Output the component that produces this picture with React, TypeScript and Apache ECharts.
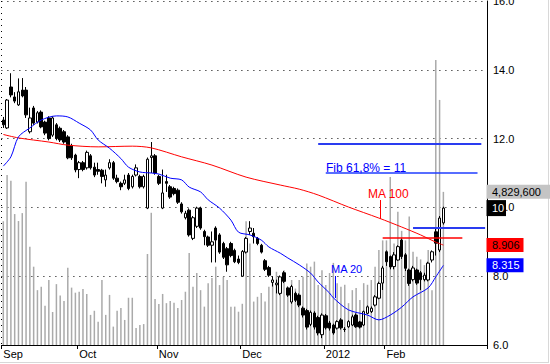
import React, { useEffect, useRef } from 'react';
import * as echarts from 'echarts';

const monthLabels = ['Sep', 'Oct', 'Nov', 'Dec', '2012', 'Feb'];
const monthStarts = [0, 20, 41, 63, 85, 101];
const yearStart = 85;
const slotCount = 128;

// [open, close, low, high]
const candles = [
  [12.54, 12.40, 12.31, 12.63], [12.31, 13.12, 12.28, 13.15], [13.50, 13.27, 13.20, 13.90], [13.21, 13.09, 13.03, 13.35],
  [12.98, 13.36, 12.95, 13.75], [13.41, 13.24, 13.20, 13.76], [13.41, 12.69, 12.60, 13.50], [12.20, 12.60, 12.15, 12.90],
  [12.89, 12.45, 12.40, 12.95], [12.48, 12.75, 12.44, 12.80], [12.77, 12.34, 12.30, 12.82], [12.48, 12.16, 12.10, 12.52],
  [12.60, 12.00, 11.95, 12.65], [12.10, 12.60, 12.05, 12.65], [12.40, 12.00, 11.95, 12.45], [12.30, 11.96, 11.90, 12.35],
  [12.20, 11.90, 11.85, 12.25], [12.05, 11.44, 11.40, 12.10], [11.80, 11.44, 11.38, 11.85], [11.52, 11.09, 11.02, 11.56],
  [11.10, 11.30, 10.85, 11.35], [11.30, 11.10, 11.05, 11.35], [11.15, 11.60, 11.10, 11.65], [11.50, 11.15, 11.10, 11.55],
  [11.17, 10.94, 10.88, 11.30], [11.10, 11.05, 10.95, 11.30], [11.08, 10.90, 10.70, 11.12], [10.80, 10.94, 10.60, 11.10],
  [11.15, 11.30, 11.10, 11.40], [11.30, 10.85, 10.80, 11.35], [10.85, 10.75, 10.70, 10.95], [10.70, 10.60, 10.50, 10.75],
  [10.70, 10.80, 10.65, 10.95], [10.94, 10.55, 10.50, 11.00], [10.60, 10.90, 10.55, 10.95], [10.94, 11.15, 10.90, 11.25],
  [10.90, 10.60, 10.55, 10.95], [10.60, 10.90, 10.55, 10.95], [9.98, 11.40, 9.95, 11.45], [11.45, 11.50, 11.00, 11.90],
  [11.50, 11.00, 10.95, 11.55], [10.90, 10.70, 10.65, 10.95], [9.98, 10.42, 9.95, 11.10], [10.75, 10.70, 10.45, 10.95],
  [10.60, 10.30, 10.25, 10.65], [10.55, 10.40, 10.35, 10.60], [10.50, 10.15, 10.10, 10.55], [10.10, 9.87, 9.82, 10.15],
  [9.70, 9.83, 9.65, 9.90], [9.92, 9.20, 9.15, 9.97], [9.10, 9.70, 9.05, 9.75], [9.45, 9.98, 9.40, 10.02],
  [9.98, 9.40, 9.35, 10.02], [9.30, 9.15, 8.90, 9.35], [9.14, 8.90, 8.85, 9.18], [8.90, 9.00, 8.40, 9.30],
  [9.40, 9.05, 8.40, 9.45], [9.20, 8.70, 8.65, 9.25], [8.95, 8.55, 8.50, 9.00], [8.80, 8.33, 8.13, 8.85],
  [8.95, 8.60, 8.55, 9.00], [8.75, 8.42, 8.38, 8.80], [8.50, 8.40, 8.35, 8.60], [8.00, 8.72, 7.98, 8.76],
  [8.70, 9.10, 8.66, 9.14], [9.30, 9.40, 9.20, 9.60], [9.25, 9.15, 8.95, 9.40], [9.10, 8.95, 8.90, 9.14],
  [8.90, 8.70, 8.66, 8.94], [8.45, 8.20, 8.15, 8.50], [8.25, 8.03, 7.98, 8.30], [7.82, 7.89, 7.70, 8.00],
  [7.75, 7.80, 7.50, 7.90], [7.50, 7.98, 7.45, 8.02], [8.10, 7.85, 7.80, 8.15], [7.66, 7.45, 7.40, 7.70],
  [7.25, 7.70, 7.20, 7.75], [7.50, 7.30, 7.25, 7.55], [7.45, 7.16, 7.10, 7.50], [7.07, 6.87, 6.80, 7.12],
  [7.00, 6.52, 6.45, 7.05], [6.60, 6.95, 6.55, 7.00], [6.93, 6.52, 6.45, 6.98], [6.80, 6.35, 6.28, 6.85],
  [6.30, 6.87, 6.20, 6.92], [6.85, 6.50, 6.45, 6.90], [6.64, 6.49, 6.42, 6.70], [6.58, 6.35, 6.30, 6.62],
  [6.49, 6.68, 6.45, 6.72], [6.73, 6.50, 6.45, 6.78], [6.46, 6.45, 6.38, 6.52], [6.53, 6.68, 6.50, 6.72],
  [6.58, 6.82, 6.55, 6.88], [6.87, 6.53, 6.50, 6.92], [6.67, 6.52, 6.48, 6.70], [6.58, 6.97, 6.55, 7.00],
  [6.92, 7.11, 6.90, 7.15], [6.97, 7.07, 6.93, 7.12], [7.16, 7.40, 7.12, 7.45], [7.36, 7.79, 7.33, 7.84],
  [7.80, 8.24, 7.60, 8.30], [8.71, 8.42, 8.30, 8.75], [8.57, 8.27, 8.20, 8.60], [8.28, 8.62, 8.20, 8.70],
  [8.47, 8.86, 8.45, 8.90], [9.05, 8.57, 8.50, 9.10], [8.62, 8.23, 8.15, 8.67], [8.18, 7.79, 7.72, 8.22],
  [7.90, 8.24, 7.85, 8.30], [8.18, 7.80, 7.75, 8.22], [8.10, 7.90, 7.60, 8.15], [7.90, 8.03, 7.85, 8.10],
  [7.89, 8.38, 7.85, 8.42], [8.47, 8.71, 8.40, 8.75], [9.29, 8.96, 8.60, 9.38], [8.76, 9.69, 8.70, 9.75],
  [9.55, 9.98, 9.50, 10.02],
];

// volume, millions
const volumes = [
  3.90, 5.36, 5.18, 4.13, 3.91, 4.16, 5.15, 3.10, 2.47, 1.73, 1.84, 1.24, 2.05, 1.04, 1.92, 1.56,
  1.39, 2.44, 1.81, 1.65, 1.68, 1.77, 1.61, 0.95, 1.08, 0.73, 2.05, 0.95, 1.58, 0.58, 1.08, 1.17,
  0.79, 1.49, 1.49, 0.54, 0.63, 0.66, 2.87, 4.17, 1.45, 1.29, 1.61, 1.32, 1.39, 1.33, 1.17, 1.42,
  1.68, 2.90, 1.84, 2.27, 1.73, 1.21, 1.95, 2.11, 2.47, 1.89, 2.15, 2.05, 1.21, 1.21, 1.05, 1.30,
  3.90, 3.20, 1.37, 1.52, 1.64, 1.37, 1.84, 1.95, 2.31, 1.84, 2.36, 1.73, 2.05, 1.78, 2.05, 2.15,
  2.57, 2.47, 2.63, 1.89, 2.36, 1.89, 2.27, 2.59, 1.95, 1.84, 1.90, 1.32, 1.73, 1.80, 1.42, 1.95,
  1.90, 2.05, 2.47, 3.00, 3.30, 3.30, 5.30, 3.20, 4.20, 3.60, 3.30, 4.05, 2.94, 2.78, 2.70, 2.52,
  3.00, 1.73, 8.99, 7.73, 4.83,
];

const ma20 = [
  [0, 11.2], [2, 11.47], [4, 12.05], [7, 12.31], [10, 12.54], [14, 12.66], [17, 12.63], [20, 12.45],
  [23, 12.25], [25, 11.96], [28, 11.72], [31, 11.42], [33, 11.17], [36, 11.03], [39, 11.0], [41, 10.97],
  [44, 10.85], [47, 10.8], [49, 10.59], [52, 10.45], [54, 10.22], [57, 9.98], [60, 9.63], [62, 9.28],
  [65, 9.2], [68, 9.05], [70, 8.85], [73, 8.67], [75, 8.53], [78, 8.33], [81, 8.09], [83, 7.83],
  [86, 7.51], [87, 7.37], [91, 7.02], [96, 6.87], [99, 6.73], [102, 6.87], [105, 7.1], [108, 7.4],
  [112, 7.66], [114, 7.98], [116, 8.315],
];

const ma100 = [
  [0, 12.12], [4, 12.02], [12, 11.9], [17, 11.81], [25, 11.76], [34, 11.78], [39, 11.73], [47, 11.47],
  [55, 11.23], [64, 10.88], [73, 10.65], [78, 10.53], [83, 10.36], [91, 10.01], [99, 9.69], [105, 9.43],
  [110, 9.2], [114, 8.99], [116, 8.906],
];

// horizontal levels: [fromIndex, toIndex, value, color, width]
const levelLines: [number, number, number, string, number][] = [
  [83, 126, 11.85, '#2a3cf0', 2],
  [85, 125, 11.0, '#1f3cff', 1.5],
  [108, 127, 9.41, '#2a3cf0', 2],
  [100, 121, 9.13, '#ff0000', 1.5],
];

const lastVolume = 4.83;
const lastVolumeText = '4,829,600';
const lastClose = 9.98;
const ma100Last = 8.906;
const ma20Last = 8.315;

const FONT = "'Liberation Sans', Arial, sans-serif";

export default function App() {
  const ref = useRef<HTMLDivElement>(null);
  useEffect(() => {
    document.body.style.margin = '0';
    const chart = echarts.init(ref.current!, null, { renderer: 'svg' });
    const slots = Array.from({ length: slotCount }, (_, i) => String(i));
    chart.setOption({
      animation: false,
      textStyle: { fontFamily: FONT },
      grid: { left: 1.4, right: 63, top: 1, bottom: 19, containLabel: false, outerBoundsMode: 'none' },
      xAxis: {
        type: 'category',
        data: slots,
        boundaryGap: true,
        axisLine: { lineStyle: { color: '#000', width: 1 } },
        axisTick: {
          show: true,
          length: 4,
          interval: (i: number) => monthStarts.includes(i),
          lineStyle: { color: '#000' },
        },
        axisLabel: {
          interval: (i: number) => monthStarts.includes(i),
          formatter: (_v: string, i: number) => monthLabels[monthStarts.indexOf(i)] ?? '',
          align: 'left',
          color: '#000',
          fontSize: 11,
          margin: 3,
          fontFamily: FONT,
        },
        splitLine: {
          show: true,
          interval: (i: number) => i === yearStart,
          lineStyle: { color: '#000', type: [1, 5], width: 1 },
        },
      },
      yAxis: [
        {
          type: 'value',
          position: 'right',
          min: 6,
          max: 16,
          interval: 2,
          axisLine: { show: true, lineStyle: { color: '#000', width: 1 } },
          axisTick: { show: false },
          axisLabel: {
            formatter: (v: number) => v.toFixed(1),
            color: '#000',
            fontSize: 11,
            margin: 6,
            fontFamily: FONT,
          },
          splitLine: { show: true, lineStyle: { color: '#000', type: [1, 5], width: 1 } },
        },
        {
          type: 'value',
          min: 0,
          max: 10.85,
          show: false,
          splitLine: { show: false },
        },
      ],
      series: [
        {
          type: 'bar',
          yAxisIndex: 1,
          data: volumes,
          barWidth: 1.5,
          itemStyle: { color: '#aaaaaa' },
          silent: true,
        },
        {
          type: 'line',
          data: ma100,
          showSymbol: false,
          smooth: 0.3,
          lineStyle: { color: '#ff0000', width: 1 },
          silent: true,
        },
        {
          type: 'line',
          data: ma20,
          showSymbol: false,
          smooth: 0.3,
          lineStyle: { color: '#0000ff', width: 1 },
          silent: true,
        },
        {
          type: 'candlestick',
          data: candles,
          barWidth: 3,
          itemStyle: {
            color: '#ffffff',
            color0: '#000000',
            borderColor: '#000000',
            borderColor0: '#000000',
            borderWidth: 1,
          },
          silent: true,
          markLine: {
            symbol: 'none',
            silent: true,
            label: { show: false },
            data: levelLines.map(([a, b, v, c, w]) => [
              { coord: [a, v], lineStyle: { color: c, width: w, type: 'solid' } },
              { coord: [b, v] },
            ]),
          },
        },
      ],
    });

    const yP = (v: number) => chart.convertToPixel({ yAxisIndex: 0 }, v) as number;
    const yV = (v: number) => chart.convertToPixel({ yAxisIndex: 1 }, v) as number;
    const tagX = 486.5;
    const tag = (y: number, w: number, h: number, fill: string, text: string, color: string) => [
      { type: 'rect', z: 100, shape: { x: tagX, y: y - h / 2, width: w, height: h }, style: { fill } },
      {
        type: 'text', z: 101, x: 492, y,
        style: { text, fill: color, font: `11px ${FONT}`, verticalAlign: 'middle', align: 'left' },
      },
    ];
    chart.setOption({
      graphic: [
        { type: 'line', z: 100, shape: { x1: 548.5, y1: 0, x2: 548.5, y2: 363 }, style: { stroke: '#d8d8d8', lineWidth: 1 } },
        { type: 'line', z: 100, shape: { x1: 0, y1: 362.5, x2: 549, y2: 362.5 }, style: { stroke: '#d8d8d8', lineWidth: 1 } },
        {
          type: 'text', z: 100, x: 326, y: 168,
          style: { text: 'Fib 61,8% = 11', fill: '#0000ff', font: `12px ${FONT}`, verticalAlign: 'middle' },
        },
        {
          type: 'text', z: 100, x: 368, y: 194,
          style: { text: 'MA 100', fill: '#ff0000', font: `12px ${FONT}`, verticalAlign: 'middle' },
        },
        { type: 'line', z: 100, shape: { x1: 380.5, y1: 200, x2: 380.5, y2: 219 }, style: { stroke: '#ff0000', lineWidth: 1 } },
        {
          type: 'text', z: 100, x: 331, y: 269,
          style: { text: 'MA 20', fill: '#0000ff', font: `11px ${FONT}`, verticalAlign: 'middle' },
        },
        { type: 'line', z: 100, shape: { x1: 335.5, y1: 276, x2: 335.5, y2: 298 }, style: { stroke: '#0000ff', lineWidth: 1 } },
        ...tag(yV(lastVolume), 64, 14, '#c4c4c4', lastVolumeText, '#000'),
        ...tag(yP(lastClose), 19.5, 16, '#000000', '10', '#ffffff'),
        ...tag(yP(ma100Last), 37, 14, '#ff0000', ma100Last.toFixed(3), '#000'),
        ...tag(yP(ma20Last), 37, 14, '#0000ff', ma20Last.toFixed(3), '#ffffff'),
      ],
    });
    return () => chart.dispose();
  }, []);
  return (
    <div
      ref={ref}
      style={{ width: 550, height: 364, position: 'absolute', left: 0, top: 0, background: '#fff' }}
    />
  );
}
